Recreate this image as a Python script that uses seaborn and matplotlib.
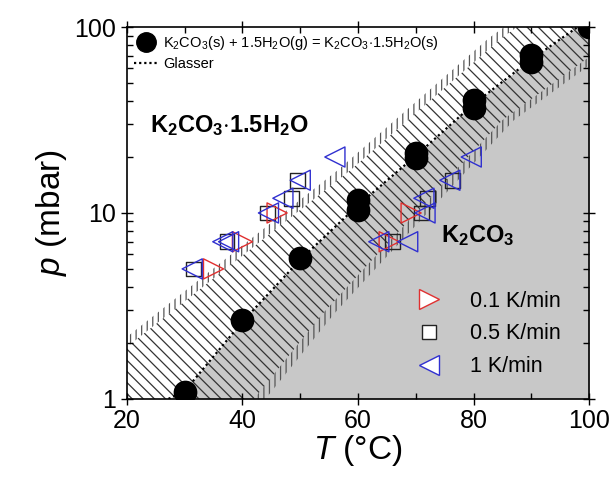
import numpy as np
import pandas as pd
import seaborn as sns
import matplotlib.pyplot as plt
from matplotlib.lines import Line2D
from matplotlib.ticker import LogLocator, NullFormatter, FixedLocator

# equilibrium points K2CO3 + 1.5 H2O = K2CO3.1.5H2O
eq_T = [30, 40, 50, 60, 60, 70, 70, 80, 80, 90, 90, 100]
eq_p = [1.09, 2.66, 5.7, 11.7, 10.4, 21.0, 19.7, 40.5, 36.6, 70.6, 64.5, 100]

# Glasser line
glasser_T = [27.2, 30, 40, 50, 60, 70, 80, 90, 98]
glasser_p = [1.0, 1.1, 2.6, 5.6, 11.0, 20.3, 38.5, 67, 100]

# metastable zone edges
upper_T = [9, 20, 58.7, 84.8, 87.5]
upper_p = [1, 1.9, 17, 87, 100]
lower_T = [42, 54, 62, 85, 100, 112]
lower_p = [1, 2.9, 5.4, 31.6, 69, 100]

# heating/cooling rate measurements
red_T = [35, 40, 46, 65.4, 69.2]
red_p = [5, 7, 10, 7, 10]
sq_T = [31.5, 37.3, 44.3, 48.5, 49.5, 66, 71, 72, 76.4]
sq_p = [5, 7, 10, 12, 15, 7, 10, 12, 15]
blue_T = [31.3, 36.6, 37.6, 44.5, 47, 50, 56, 63.6, 68.6, 71.6, 71.4, 75.9, 79.6]
blue_p = [5, 7, 7, 10, 12, 15, 20, 7, 7, 10, 12, 15, 20]

rate_labels = ['0.1 K/min', '0.5 K/min', '1 K/min']

plt.rcParams['font.family'] = ['Liberation Sans', 'DejaVu Sans']
plt.rcParams['mathtext.fontset'] = 'custom'
plt.rcParams['mathtext.rm'] = 'Liberation Sans'
plt.rcParams['mathtext.it'] = 'Liberation Sans:italic'
plt.rcParams['mathtext.bf'] = 'Liberation Sans:bold'
plt.rcParams['hatch.linewidth'] = 0.9

fig = plt.figure(figsize=(6.13, 4.84), dpi=100)
ax = fig.add_axes([0.207, 0.176, 0.754, 0.768])
ax.set_yscale('log')

# regions
pg = np.logspace(0, 2, 300)
lp = np.log10(pg)
T_up = np.interp(lp, np.log10(upper_p), upper_T)
T_lo = np.interp(lp, np.log10(lower_p), lower_T)
T_gl = np.interp(lp, np.log10(glasser_p), glasser_T)
ax.fill_betweenx(pg, T_gl, 100, color='#c8c8c8', lw=0, zorder=0)
ax.fill_betweenx(pg, T_up, T_lo, facecolor='none', edgecolor='#333333',
                 hatch='\\\\\\', lw=0, zorder=1)
ax.fill_betweenx(pg, T_up - 2.2, T_up, facecolor='none', edgecolor='#555555',
                 hatch='|||', lw=0, zorder=1)
ax.fill_betweenx(pg, T_lo, T_lo + 2.0, facecolor='none', edgecolor='#555555',
                 hatch='|||', lw=0, zorder=1)

gl = pd.DataFrame({'T': glasser_T, 'p': glasser_p})
sns.lineplot(data=gl, x='T', y='p', ax=ax, color='black', lw=1.6,
             linestyle=(0, (1, 1.3)), zorder=2)

eq = pd.DataFrame({'T': eq_T, 'p': eq_p})
sns.scatterplot(data=eq, x='T', y='p', ax=ax, marker='o', s=250,
                color='black', edgecolor='black', zorder=3)

sns.scatterplot(x=sq_T, y=sq_p, ax=ax, marker='s', s=110, facecolors='none',
                edgecolors='#222222', linewidth=1.0, zorder=4)
sns.scatterplot(x=red_T, y=red_p, ax=ax, marker='>', s=210, facecolors='none',
                edgecolors='#e03030', linewidth=1.0, zorder=4)
sns.scatterplot(x=blue_T, y=blue_p, ax=ax, marker='<', s=210, facecolors='none',
                edgecolors='#3030d0', linewidth=1.0, zorder=4)

ax.set_xlim(20, 100)
ax.set_ylim(1, 100)
ax.set_xticks([20, 40, 60, 80, 100])
ax.xaxis.set_minor_locator(FixedLocator([30, 50, 70, 90]))
ax.set_yticks([1, 10, 100])
ax.set_yticklabels(['1', '10', '100'])
ax.yaxis.set_minor_locator(LogLocator(base=10, subs=np.arange(2, 10)))
ax.yaxis.set_minor_formatter(NullFormatter())
ax.tick_params(which='major', direction='inout', length=8, width=1,
               labelsize=18, top=True, right=True)
ax.tick_params(which='minor', direction='in', length=4, width=1,
               top=True, right=True)
for s in ax.spines.values():
    s.set_linewidth(1.2)
ax.set_xlabel(r'$T$ (°C)', fontsize=24, labelpad=0)
ax.set_ylabel(r'$p$ (mbar)', fontsize=24, labelpad=4)

ax.text(24, 29.7, r'$\mathbf{K_2CO_3{\cdot}1.5H_2O}$', fontsize=17,
        va='center', ha='left')
ax.text(74.3, 7.6, r'$\mathbf{K_2CO_3}$', fontsize=17, va='center', ha='left')

h1 = [Line2D([], [], marker='o', color='black', ls='none', ms=14),
      Line2D([], [], color='black', lw=1.6, ls=(0, (1, 1.3)))]
leg1 = ax.legend(h1, [r'K$_2$CO$_3$(s) + 1.5H$_2$O(g) = K$_2$CO$_3$$\cdot$1.5H$_2$O(s)',
                      'Glasser'],
                 loc='upper left', frameon=False, fontsize=10.5,
                 borderaxespad=0.1, handlelength=1.6, handletextpad=0.4,
                 labelspacing=0.3)
ax.add_artist(leg1)

h2 = [Line2D([], [], marker='>', ms=14, mfc='white', mec='#e03030', ls='none'),
      Line2D([], [], marker='s', ms=10, mfc='white', mec='#222222', ls='none'),
      Line2D([], [], marker='<', ms=14, mfc='white', mec='#3030d0', ls='none')]
ax.legend(h2, rate_labels, loc='lower right', bbox_to_anchor=(0.985, 0.0),
          frameon=False, fontsize=15.5, borderaxespad=0.6,
          handletextpad=0.9, labelspacing=0.55)

fig.savefig('out.png', dpi=100)
